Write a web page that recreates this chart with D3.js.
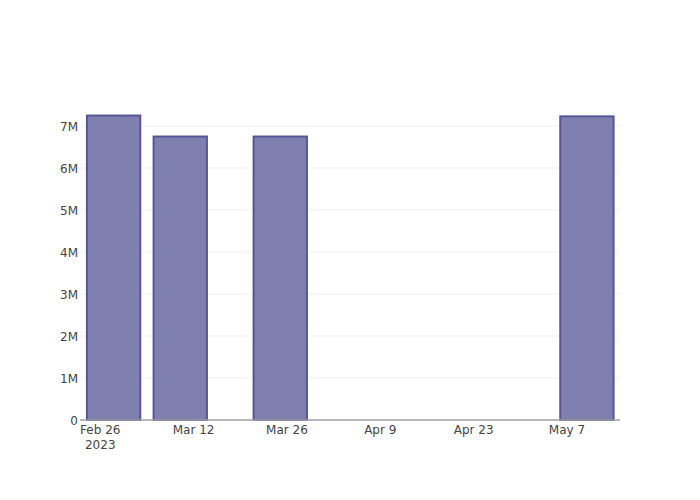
<!DOCTYPE html>
<html><head><meta charset="utf-8">
<script src="https://cdn.jsdelivr.net/npm/d3@7"></script>
<style>body{margin:0;background:#fff}svg{display:block}text{font-family:"DejaVu Sans",Verdana,sans-serif}</style>
</head><body>
<script>
const dates = ["2023-02-28","2023-03-10","2023-03-25","2023-05-10"];
const values = [7250000, 6750000, 6750000, 7230000];
const xTickDates = ["2023-02-26","2023-03-12","2023-03-26","2023-04-09","2023-04-23","2023-05-07"];
const yTicks = [0,1000000,2000000,3000000,4000000,5000000,6000000,7000000];
const yTickLabels = ["0","1M","2M","3M","4M","5M","6M","7M"];
const barDays = 8;

const W=700,H=500, L=80, R=620, T=100, B=420;
const svg=d3.select("body").append("svg").attr("width",W).attr("height",H);
const parse=d3.utcParse("%Y-%m-%d");
const day=86400000;
const x=d3.scaleUtc().domain([new Date(parse("2023-02-26").getTime()-3.04*day), new Date(parse("2023-02-26").getTime()+77.96*day)]).range([L,R]);
const y=d3.scaleLinear().domain([0,7620000]).range([B,T]);

// gridlines
svg.append("g").selectAll("line").data(yTicks.slice(1)).join("line")
  .attr("x1",L).attr("x2",R).attr("y1",d=>y(d)).attr("y2",d=>y(d))
  .attr("stroke","#eeeeee").attr("stroke-width",1);

// bars
svg.append("g").selectAll("rect").data(dates.map((d,i)=>({d:parse(d),v:values[i]}))).join("rect")
  .attr("x",d=>x(new Date(d.d.getTime()-barDays/2*day)))
  .attr("width",d=>x(new Date(d.d.getTime()+barDays/2*day))-x(new Date(d.d.getTime()-barDays/2*day)))
  .attr("y",d=>y(d.v)).attr("height",d=>B-y(d.v))
  .attr("fill","#8080b0").attr("stroke","#555599").attr("stroke-width",2);

// x axis line
svg.append("line").attr("x1",L).attr("x2",R).attr("y1",B).attr("y2",B).attr("stroke","#a0a0a0").attr("stroke-width",1.5);

// y labels
svg.append("g").selectAll("text").data(yTicks).join("text")
  .attr("x",L-2).attr("y",d=>y(d)).attr("dy","0.42em").attr("text-anchor","end")
  .attr("font-size",12).attr("fill","#444").text((d,i)=>yTickLabels[i]);

// x labels
const fmt=d3.utcFormat("%b %-d");
const xg=svg.append("g").selectAll("text").data(xTickDates.map(parse)).join("text")
  .attr("x",d=>x(d)).attr("y",B+13.5).attr("text-anchor","middle")
  .attr("font-size",12).attr("fill","#444");
xg.append("tspan").attr("x",d=>x(d)).text(d=>fmt(d));
xg.filter((d,i)=>i===0).append("tspan").attr("x",d=>x(d)).attr("dy",15.6).text(d=>d3.utcFormat("%Y")(d));
</script>
</body></html>
